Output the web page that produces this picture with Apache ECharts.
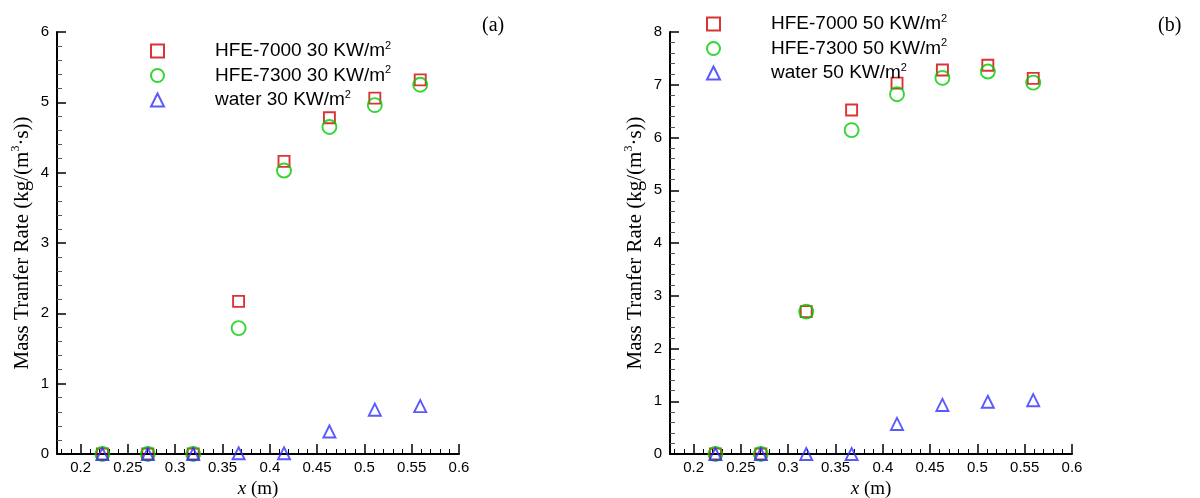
<!DOCTYPE html>
<html><head><meta charset="utf-8">
<script src="https://cdn.jsdelivr.net/npm/echarts@6/dist/echarts.min.js"></script>
<style>html,body{margin:0;padding:0;background:#fff}#c{width:1200px;height:498px}</style>
</head><body><div id="c"></div>
<script>
const xPos = [0.223, 0.271, 0.319, 0.367, 0.415, 0.463, 0.511, 0.559];
const a_hfe7000 = [0, 0, 0, 2.17, 4.16, 4.78, 5.06, 5.32];
const a_hfe7300 = [0, 0, 0, 1.79, 4.03, 4.65, 4.96, 5.25];
const a_water   = [0, 0, 0, 0.01, 0.01, 0.32, 0.63, 0.68];
const b_hfe7000 = [0, 0, 2.70, 6.52, 7.03, 7.28, 7.37, 7.12];
const b_hfe7300 = [0, 0, 2.70, 6.14, 6.82, 7.13, 7.25, 7.04];
const b_water   = [0, 0, 0, 0, 0.57, 0.93, 0.99, 1.02];
const xTickLabels = [0.2, 0.25, 0.3, 0.35, 0.4, 0.45, 0.5, 0.55, 0.6];
const namesA = ['HFE-7000 30 KW/m²', 'HFE-7300 30 KW/m²', 'water 30 KW/m²'];
const namesB = ['HFE-7000 50 KW/m²', 'HFE-7300 50 KW/m²', 'water 50 KW/m²'];

const minorX = [];
for (let i = 18; i <= 59; i++) { if (i % 5 !== 0) minorX.push(i / 100); }

const RED = '#d20000', GREEN = '#00cc00', BLUE = '#2f2fff';
const pts = ys => xPos.map((x, i) => [x, ys[i]]);
const legendFmt = n => '{t|' + n.replace('²', '') + '}{s|2}';
const richLeg = { t: { fontSize: 19, fontFamily: 'Liberation Sans', color: '#000', lineHeight: 22, padding: [0, 0, 0, 46] }, s: { fontSize: 11, fontFamily: 'Liberation Sans', color: '#000', verticalAlign: 'top' } };

function xMain(gi) {
  return {
    type: 'value', gridIndex: gi, min: 0.175, max: 0.6,
    name: '{i|x} (m)', nameLocation: 'middle', nameGap: 23,
    nameTextStyle: { fontFamily: 'Liberation Serif', fontSize: 19, color: '#000', rich: { i: { fontFamily: 'Liberation Serif', fontStyle: 'italic', fontSize: 19, color: '#000' } } },
    axisLine: { show: true, onZero: false, lineStyle: { color: '#000', width: 2 } },
    axisTick: { show: true, inside: true, length: 10, lineStyle: { color: '#000', width: 1.5 }, customValues: xTickLabels },
    axisLabel: { customValues: xTickLabels, fontFamily: 'Liberation Sans', fontSize: 15, color: '#000', margin: 6, formatter: v => String(v) },
    splitLine: { show: false }
  };
}
function xMinor(gi) {
  return {
    type: 'value', gridIndex: gi, min: 0.175, max: 0.6, position: 'bottom',
    axisLine: { show: false },
    axisTick: { show: true, inside: true, length: 5, lineStyle: { color: '#000', width: 1 }, customValues: minorX },
    axisLabel: { show: false }, splitLine: { show: false }
  };
}
function yAx(gi, max) {
  return {
    type: 'value', gridIndex: gi, min: 0, max: max, interval: 1,
    name: 'Mass Tranfer Rate (kg/(m{s|3}·s))', nameLocation: 'middle', nameGap: 23,
    nameTextStyle: { fontFamily: 'Liberation Serif', fontSize: 21, color: '#000', lineHeight: 24, rich: { s: { fontFamily: 'Liberation Serif', fontSize: 12, color: '#000', verticalAlign: 'top' } } },
    axisLine: { show: true, lineStyle: { color: '#000', width: 2 } },
    axisTick: { show: true, inside: true, length: 9, lineStyle: { color: '#000', width: 1.5 } },
    minorTick: { show: true, splitNumber: 5, length: 5, lineStyle: { color: '#555', width: 1 } },
    axisLabel: { fontFamily: 'Liberation Sans', fontSize: 15, color: '#000', margin: 8 },
    splitLine: { show: false }
  };
}
function ser(name, data, xi, yi, sym, size, color) {
  return {
    type: 'scatter', name: name, data: data, xAxisIndex: xi, yAxisIndex: yi,
    symbol: sym, symbolSize: size,
    itemStyle: { color: 'rgba(255,255,255,0)', borderColor: color, borderWidth: 1.9 },
    emphasis: { disabled: true }, z: 3
  };
}

const chart = echarts.init(document.getElementById('c'), null, { renderer: 'canvas' });
chart.setOption({
  animation: false,
  backgroundColor: '#fff',
  grid: [
    { left: 57, top: 32, width: 402, height: 422, outerBoundsMode: 'none', containLabel: false },
    { left: 670, top: 32, width: 402, height: 422, outerBoundsMode: 'none', containLabel: false }
  ],
  xAxis: [xMain(0), xMain(1), xMinor(0), xMinor(1)],
  yAxis: [yAx(0, 6), yAx(1, 8)],
  legend: [
    { data: namesA, orient: 'vertical', left: 145, top: 35, itemWidth: 13, itemHeight: 13, itemGap: 4, formatter: legendFmt, textStyle: { rich: richLeg }, selectedMode: false },
    { data: namesB, orient: 'vertical', left: 701, top: 8, itemWidth: 13, itemHeight: 13, itemGap: 4, formatter: legendFmt, textStyle: { rich: richLeg }, selectedMode: false }
  ],
  graphic: [
    { type: 'text', left: 482, top: 16, style: { text: '(a)', font: '20px "Liberation Serif"', fill: '#000' } },
    { type: 'text', left: 1158, top: 16, style: { text: '(b)', font: '20px "Liberation Serif"', fill: '#000' } }
  ],
  series: [
    ser(namesA[0], pts(a_hfe7000), 0, 0, 'rect', 11, RED),
    ser(namesA[1], pts(a_hfe7300), 0, 0, 'circle', 14, GREEN),
    ser(namesA[2], pts(a_water), 0, 0, 'triangle', 12, BLUE),
    ser(namesB[0], pts(b_hfe7000), 1, 1, 'rect', 11, RED),
    ser(namesB[1], pts(b_hfe7300), 1, 1, 'circle', 14, GREEN),
    ser(namesB[2], pts(b_water), 1, 1, 'triangle', 12, BLUE)
  ]
});
</script></body></html>
